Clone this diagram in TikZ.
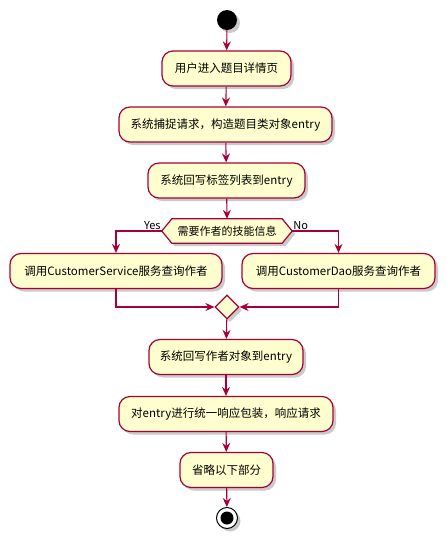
\documentclass[tikz,border=0pt]{standalone}
\usepackage{fontspec}
\setmainfont{Noto Sans CJK SC}
\usetikzlibrary{shapes.geometric,arrows.meta,shadows}
\definecolor{pborder}{HTML}{A80036}
\definecolor{pfill}{HTML}{FEFECE}
\begin{document}
\begin{tikzpicture}[x=1pt,y=-1pt,
  shd/.style={drop shadow={shadow xshift=3pt,shadow yshift=-3pt,opacity=0.35,fill=black!60}},
  act/.style={draw=pborder,fill=pfill,line width=1.2pt,rounded corners=11pt,minimum height=35pt,inner sep=0pt,font=\fontsize{11.5}{13}\selectfont,shd},
  flow/.style={draw=pborder,line width=1.1pt,-{Stealth[length=9pt,width=8pt,inset=3pt]}},
  lbl/.style={font=\fontsize{11}{12}\selectfont,inner sep=1pt}
]
\useasboundingbox (0,0) rectangle (446,539);
\node[circle,fill=black,minimum size=20pt,inner sep=0pt,shd] (start) at (227,20) {};
\node[act,minimum width=129pt] (b1) at (226.5,68.5) {用户进入题目详情页};
\node[act,minimum width=213pt] (b2) at (225.5,124.5) {系统捕捉请求，构造题目类对象entry};
\node[act,minimum width=157pt] (b3) at (226.5,180.5) {系统回写标签列表到entry};
\node[minimum width=130pt,minimum height=24pt,inner sep=0pt] (dec) at (227,231) {};
\path[fill=black!60,opacity=0.35] ([shift={(3,3)}]dec.west) -- ([shift={(13,3)}]dec.north west) -- ([shift={(-7,3)}]dec.north east) -- ([shift={(3,3)}]dec.east) -- ([shift={(-7,3)}]dec.south east) -- ([shift={(13,3)}]dec.south west) -- cycle;
\draw[draw=pborder,fill=pfill,line width=1.2pt] (dec.west) -- ([xshift=10pt]dec.north west) -- ([xshift=-10pt]dec.north east) -- (dec.east) -- ([xshift=-10pt]dec.south east) -- ([xshift=10pt]dec.south west) -- cycle;
\node[font=\fontsize{11}{12}\selectfont] at (dec.center) {需要作者的技能信息};
\node[act,minimum width=212pt] (L) at (116,271) {调用CustomerService服务查询作者};
\node[act,minimum width=193pt] (R) at (338.5,271) {调用CustomerDao服务查询作者};
\node[diamond,draw=pborder,fill=pfill,line width=1.2pt,minimum width=24pt,minimum height=24pt,inner sep=0pt,shd] (merge) at (227,307) {};
\node[act,minimum width=154pt] (b4) at (226,357) {系统回写作者对象到entry};
\node[act,minimum width=214pt] (b5) at (226,414) {对entry进行统一响应包装，响应请求};
\node[act,minimum width=93pt] (b6) at (226.5,470) {省略以下部分};
\node[circle,draw=black,fill=white,line width=1pt,minimum size=21pt,inner sep=0pt,shd] (end) at (227,518) {};
\fill[black] (end.center) circle (6.5pt);
\draw[flow] (start) -- (b1);
\draw[flow] (b1) -- (b2);
\draw[flow] (b2) -- (b3);
\draw[flow] (b3) -- (dec.north);
\draw[flow] (dec.west) -| (L.north);
\draw[flow] (dec.east) -| (R.north);
\node[lbl,anchor=south east] at (dec.west) {Yes};
\node[lbl,anchor=south west] at (dec.east) {No};
\draw[flow] (L.south) |- (merge.west);
\draw[flow] (R.south) |- (merge.east);
\draw[flow] (merge) -- (b4);
\draw[flow] (b4) -- (b5);
\draw[flow] (b5) -- (b6);
\draw[flow] (b6) -- (end);
\end{tikzpicture}
\end{document}
